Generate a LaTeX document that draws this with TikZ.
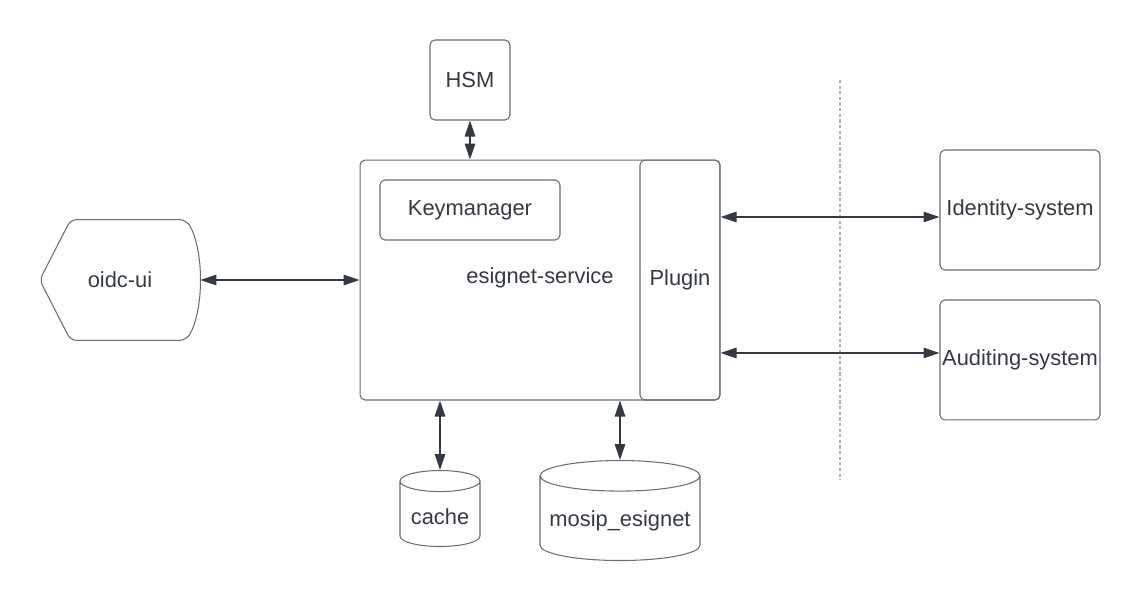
\documentclass[tikz,border=0pt]{standalone}
\usepackage{fontspec}
\setmainfont{Liberation Sans}
\usetikzlibrary{arrows.meta,shapes,positioning,calc}
\definecolor{ink}{RGB}{52,58,68}
\definecolor{edgegray}{RGB}{105,110,118}
\definecolor{sepgray}{RGB}{175,175,175}
\tikzset{
    box/.style={
        rectangle,
        rounded corners=1mm,
        draw=edgegray,
        line width=0.6pt,
        inner xsep=0pt,
        text=ink,
        font=\fontsize{12.45}{15}\selectfont,
    },
    store/.style={
        cylinder,
        shape border rotate=90,
        draw=edgegray,
        line width=0.6pt,
        text=ink,
        font=\fontsize{12.45}{15}\selectfont,
    },
    plain/.style={
        text=ink,
        font=\fontsize{12.45}{15}\selectfont,
    },
    link/.style={<->,color=ink,line width=0.75pt},
}

\begin{document}
\begin{tikzpicture}[x=0.02cm,y=-0.02cm,node distance=3cm,>={Triangle[length=3.2mm,width=2.1mm]}]
    \useasboundingbox (0,0) rectangle (1140,600);
    \node [box,minimum width=7.2cm,minimum height=4.8cm] (service) at (540,280) {};
    \node [box,minimum width=1.6cm,minimum height=4.8cm] (plugin) at (680,280) {Plugin};
    \node [plain] (servicelabel) at (540,278) {esignet-service};
    \node [box,minimum width=3.6cm,minimum height=1.2cm] (keymgr) at (470,210) {Keymanager};
    \node [box,minimum size=1.6cm] (hsm) at (470,80) {HSM};
    \node [box,minimum width=3.2cm,minimum height=2.4cm] (ident) at (1020,210) {Identity-system};
    \node [box,minimum width=3.2cm,minimum height=2.4cm] (audit) [below of=ident] {Auditing-system};
    \node [store,minimum width=1.6cm,minimum height=1.52cm,aspect=0.3,anchor=north] (cache) at (440,470) {cache};
    \node [store,minimum width=3.2cm,minimum height=2cm,aspect=0.2,anchor=north] (mosip) at (620,460) {mosip\_esignet};
    % oidc-ui outline drawn round an empty-bordered node
    \node [plain,minimum width=3.2cm,minimum height=2.4cm] (oidc) at (120,280) {oidc-ui};
    \draw [edgegray,line width=0.6pt,rounded corners=1.2mm]
        (oidc.west) -- ($(oidc.north west)+(31,0)$) -- ($(oidc.north east)+(-15,0)$)
        .. controls ($(oidc.north east)+(-4,15)$) and ($(oidc.east)+(0,-20)$) .. (oidc.east)
        .. controls ($(oidc.east)+(0,20)$) and ($(oidc.south east)+(-4,-15)$) .. ($(oidc.south east)+(-15,0)$)
        -- ($(oidc.south west)+(31,0)$) -- cycle;
    % trust boundary
    \coordinate (septop) at (840,80);
    \coordinate (sepbot) at (840,480);
    \draw [sepgray,line width=0.6pt,dash pattern=on 1.8pt off 1.4pt] (septop) -- (sepbot);
    \path [link] (oidc.east) edge (service.west);
    \path [link] (hsm.south) edge (hsm.south |- service.north);
    \path [link] (cache.north |- service.south) edge (cache.north);
    \path [link] (mosip.north |- service.south) edge (mosip.north);
    \path [link] ([yshift=-0.14cm]ident.west -| plugin.east) edge ([yshift=-0.14cm]ident.west);
    \path [link] ([yshift=0.14cm]audit.west -| plugin.east) edge ([yshift=0.14cm]audit.west);
\end{tikzpicture}
\end{document}
